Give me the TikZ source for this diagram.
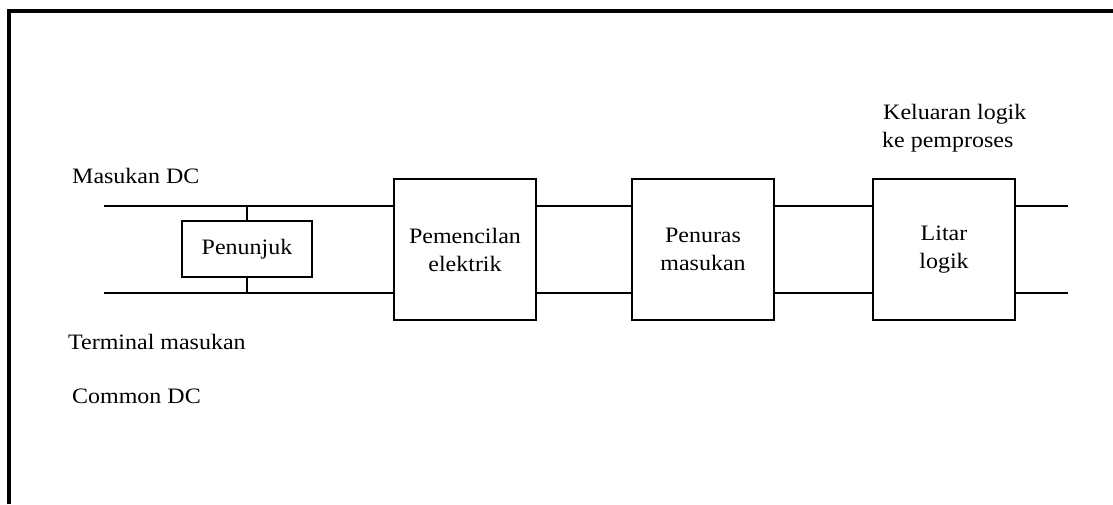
\documentclass[tikz,border=0pt]{standalone}
\usepackage{fontspec}
\setmainfont[FakeStretch=1.09]{Liberation Serif}
\begin{document}
\begin{tikzpicture}[x=1pt,y=-1pt,
  wire/.style={line width=1.6pt},
  blk/.style={draw,line width=1.6pt,minimum width=142pt,minimum height=141pt,inner sep=0pt,align=center,font=\fontsize{22}{28}\selectfont},
  small/.style={draw,line width=1.6pt,minimum width=130pt,minimum height=56pt,inner sep=0pt,font=\fontsize{22}{28}\selectfont},
  lbl/.style={inner sep=0pt,font=\fontsize{22}{28}\selectfont}]
\useasboundingbox (0,0) rectangle (1113,504);
\draw[line width=4pt] (8.5,504) -- (8.5,11) -- (1113,11);
\coordinate (inT) at (104,206);
\coordinate (inB) at (104,293);
\coordinate (outT) at (1068,206);
\coordinate (outB) at (1068,293);
\node[small] (pen) at (247,249) {Penunjuk};
\node[blk] (iso) at (465,249.5) {Pemencilan\\elektrik};
\node[blk] (fil) at (703,249.5) {Penuras\\masukan};
\node[blk] (log) at (944,249.5) {Litar\\logik};
\draw[wire] (inT) -- (iso.west |- inT);
\draw[wire] (inB) -- (iso.west |- inB);
\draw[wire] (pen.north) -- (pen.north |- inT);
\draw[wire] (pen.south) -- (pen.south |- inB);
\draw[wire] (iso.east |- inT) -- (fil.west |- inT);
\draw[wire] (iso.east |- inB) -- (fil.west |- inB);
\draw[wire] (fil.east |- inT) -- (log.west |- inT);
\draw[wire] (fil.east |- inB) -- (log.west |- inB);
\draw[wire] (log.east |- outT) -- (outT);
\draw[wire] (log.east |- outB) -- (outB);
\node[lbl,anchor=base west] (mdc) at (72,183) {Masukan DC};
\node[lbl,anchor=base west] (term) at (68,349) {Terminal masukan};
\node[lbl,anchor=base west] (cdc) at (72,403) {Common DC};
\node[lbl,anchor=base west] (kel1) at (883,119) {Keluaran logik};
\node[lbl,anchor=base west] (kel2) at (882,147) {ke pemproses};
\end{tikzpicture}
\end{document}
